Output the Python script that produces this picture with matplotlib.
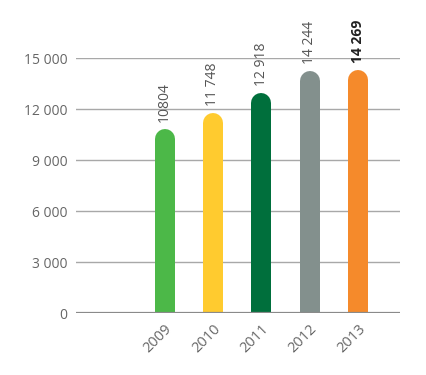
import matplotlib.pyplot as plt
from matplotlib.ticker import FuncFormatter

years = ["2009", "2010", "2011", "2012", "2013"]
values = [10804, 11748, 12918, 14244, 14269]
value_labels = ["10804", "11 748", "12 918", "14 244", "14 269"]
colors = ["#4cb848", "#ffcb2f", "#006f3c", "#83908d", "#f58a2b"]

plt.rcParams["font.family"] = ["Open Sans", "DejaVu Sans"]

fig = plt.figure(figsize=(4.27, 3.75), dpi=100)
ax = fig.add_axes([0.178, 0.1653, 0.759, 0.68])

ax.set_xlim(-1.83, 4.87)
ax.set_ylim(0, 15000)

# rounded bar tops: thick line with round cap, shortened by the cap radius
bar_px = 20
lw = bar_px * 72 / fig.dpi
ax_h_px = 0.68 * 375
r = (bar_px / 2) / ax_h_px * 15000

for i, (v, c, lab) in enumerate(zip(values, colors, value_labels)):
    ax.plot([i, i], [-r * 2, v - r], color=c, lw=lw, solid_capstyle="round", zorder=3)
    ax.annotate(lab, (i, v), xytext=(0, 5), textcoords="offset points",
                rotation=90, ha="center", va="bottom", fontsize=10,
                color="#222222" if i == 4 else "#555555",
                fontweight="bold" if i == 4 else "normal", annotation_clip=False)

ax.set_yticks(range(0, 15001, 3000))
ax.yaxis.set_major_formatter(FuncFormatter(lambda x, p: f"{int(x):,}".replace(",", " ")))
ax.set_xticks(range(len(years)))
ax.set_xticklabels(years, rotation=45, ha="right", rotation_mode="anchor")
ax.tick_params(axis="both", length=0, labelcolor="#666666")
ax.tick_params(axis="y", pad=6, labelsize=10)
ax.tick_params(axis="x", pad=6, labelsize=10.5)

ax.grid(axis="y", color="#a8a8a8", lw=1.0, zorder=0)
ax.axhline(0, color="#8a8a8a", lw=1.6, zorder=4)
for s in ax.spines.values():
    s.set_visible(False)

fig.savefig("out.png", dpi=100)
